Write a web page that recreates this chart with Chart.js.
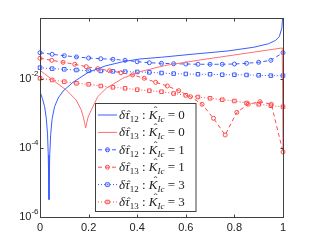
<!DOCTYPE html>
<html>
<head>
<meta charset="utf-8">
<script src="https://cdn.jsdelivr.net/npm/chart.js@4/dist/chart.umd.min.js"></script>
<style>
  html, body { margin: 0; padding: 0; background: #fff; }
</style>
</head>
<body>
<canvas id="chart" width="312" height="244"></canvas>
<script>
// 數值
const blueSolidX = [0, 0.01, 0.019, 0.026, 0.031, 0.034, 0.037, 0.040, 0.044, 0.050, 0.060, 0.075, 0.095, 0.135, 0.2, 0.27, 0.34, 0.41, 0.5, 0.63, 0.77, 0.88, 0.94, 0.97, 0.985, 0.995, 1];
const blueSolid = [4.27e-3, 2.69e-3, 1.58e-3, 7.1e-4, 2.5e-4, 6.3e-5, 3.2e-6, 6.3e-5, 2.5e-4, 7.1e-4, 1.58e-3, 2.82e-3, 4.47e-3, 7.94e-3, 0.0158, 0.024, 0.0316, 0.038, 0.0427, 0.0525, 0.0646, 0.0832, 0.105, 0.132, 0.17, 0.295, 0.79];

const redSolidX = [0, 0.053, 0.108, 0.149, 0.170, 0.178, 0.183, 0.188, 0.193, 0.198, 0.211, 0.238, 0.273, 0.341, 0.41, 0.513, 0.658, 0.823, 0.997, 1];
const redSolid = [0.0178, 9.3e-3, 4.8e-3, 2.45e-3, 1.26e-3, 7.9e-4, 5.6e-4, 3.8e-4, 5.6e-4, 7.9e-4, 1.26e-3, 3.1e-3, 5.4e-3, 0.0105, 0.0162, 0.0245, 0.0355, 0.0525, 0.0794, 7.9e-5];

const markX = [0, 0.05, 0.1, 0.15, 0.2, 0.25, 0.3, 0.35, 0.4, 0.45, 0.5, 0.55, 0.6, 0.65, 0.7, 0.75, 0.8, 0.85, 0.9, 0.95, 1];
const blueCirc = [0.0578, 0.052, 0.0473, 0.0435, 0.0406, 0.0387, 0.0372, 0.0348, 0.0317, 0.0296, 0.0285, 0.0277, 0.0272, 0.0267, 0.0267, 0.0267, 0.0272, 0.0285, 0.0305, 0.0348, 0.0578];
const blueSq = [0.0213, 0.0199, 0.0191, 0.0182, 0.0174, 0.0171, 0.0167, 0.0163, 0.016, 0.0156, 0.0149, 0.0143, 0.014, 0.0137, 0.0137, 0.0133, 0.0133, 0.0131, 0.0128, 0.0125, 0.0125];
const redSq = [0.0105, 0.00935, 0.00836, 0.0075, 0.00701, 0.00627, 0.00574, 0.00537, 0.0049, 0.00458, 0.00429, 0.0038, 0.00337, 0.00301, 0.00276, 0.00251, 0.0023, 0.00201, 0.00185, 0.00168, 0.00157];

const redCircX = [0, 0.048, 0.095, 0.143, 0.190, 0.238, 0.286, 0.333, 0.381, 0.429, 0.476, 0.524, 0.571, 0.619, 0.667, 0.714, 0.762, 0.810, 0.857, 0.905, 0.952, 1];
const redCirc = [0.0398, 0.0348, 0.0305, 0.0267, 0.0228, 0.0199, 0.0174, 0.0152, 0.0131, 0.0105, 0.00802, 0.00627, 0.00458, 0.00307, 0.00185, 0.000726, 0.000238, 0.00108, 0.00185, 0.0022, 0.00185, 0.0000766];

// 圖例文字
const tauSub = ['12', '13', '12', '13', '12', '13'];
const kicVal = ['0', '0', '1', '1', '3', '3'];

const xTicks = [0, 0.2, 0.4, 0.6, 0.8, 1];
const yTicks = [1e-6, 1e-4, 1e-2];
const yMax = 0.586;

const BLUE = '#3a5cff';
const RED = '#ff4a4a';

function pts(xs, ys) {
    return xs.map((x, i) => ({ x: x, y: ys[i] }));
}

function drawMarker(ctx, style, x, y, color) {
    ctx.save();
    ctx.setLineDash([]);
    ctx.strokeStyle = color;
    ctx.lineWidth = 1;
    ctx.beginPath();
    if (style === 'circle') {
        ctx.arc(x, y, 2, 0, Math.PI * 2);
    } else {
        ctx.rect(x - 1.75, y - 1.75, 3.5, 3.5);
    }
    ctx.stroke();
    ctx.restore();
}

// 圖例文字（含上下標與 hat 符號）
function drawLabel(ctx, x, y, sub, k) {
    const base = y + 4;
    const parts = [
        ['δ', 'italic 13px "Liberation Serif"', 0, false],
        ['τ', 'italic 13px "Liberation Serif"', 0, true],
        [sub, '9px "Liberation Serif"', 3, false],
        [' : ', '13px "Liberation Serif"', 0, false],
        ['K', 'italic 13px "Liberation Serif"', 0, true],
        ['Ic', 'italic 9px "Liberation Serif"', 3, false],
        [' = ' + k, '13px "Liberation Serif"', 0, false]
    ];
    ctx.fillStyle = '#222';
    ctx.textBaseline = 'alphabetic';
    ctx.textAlign = 'left';
    parts.forEach(([t, f, dy, hat]) => {
        ctx.font = f;
        const w = ctx.measureText(t).width;
        ctx.fillText(t, x, base + dy);
        if (hat) {
            ctx.font = '11px "Liberation Serif"';
            ctx.textAlign = 'center';
            const shift = t === 'K' ? 2.5 : 1.5;
            ctx.fillText('\u02C6', x + w / 2 + shift, base - (t === 'K' ? 5 : 1));
            ctx.textAlign = 'left';
        }
        x += w;
    });
}

// 外框、刻度與 y 軸標籤
const boxPlugin = {
    id: 'box',
    afterDatasetsDraw(chart) {
        const { ctx, chartArea: a, scales } = chart;
        const L = Math.round(a.left) + 0.5, R = Math.round(a.right) + 0.5;
        const T = Math.round(a.top) + 0.5, B = Math.round(a.bottom) + 0.5;
        ctx.save();
        ctx.strokeStyle = '#404040';
        ctx.lineWidth = 1;
        ctx.strokeRect(L, T, R - L, B - T);
        ctx.beginPath();
        xTicks.forEach(v => {
            const px = Math.round(scales.x.getPixelForValue(v)) + 0.5;
            ctx.moveTo(px, B); ctx.lineTo(px, B - 3);
            ctx.moveTo(px, T); ctx.lineTo(px, T + 3);
        });
        yTicks.forEach(v => {
            const py = Math.round(scales.y.getPixelForValue(v)) + 0.5;
            ctx.moveTo(L, py); ctx.lineTo(L + 3, py);
            ctx.moveTo(R, py); ctx.lineTo(R - 3, py);
        });
        ctx.stroke();

        ctx.fillStyle = '#222';
        ctx.textBaseline = 'middle';
        yTicks.forEach(v => {
            const py = scales.y.getPixelForValue(v);
            const exp = '-' + Math.abs(Math.round(Math.log10(v)));
            ctx.font = '8px "Liberation Sans"';
            const ew = ctx.measureText(exp).width;
            ctx.textAlign = 'right';
            ctx.fillText(exp, 38.5, py - 5);
            ctx.font = '11px "Liberation Sans"';
            ctx.fillText('10', 38.5 - ew, py);
        });
        ctx.restore();
    }
};

const legendPlugin = {
    id: 'mlegend',
    afterDraw(chart) {
        const ctx = chart.ctx;
        ctx.save();
        ctx.fillStyle = '#fff';
        ctx.fillRect(95.5, 103.5, 100.5, 108);
        ctx.strokeStyle = '#404040';
        ctx.lineWidth = 1;
        ctx.strokeRect(95.5, 103.5, 100.5, 108);
        chart.data.datasets.forEach((ds, i) => {
            const yy = 115 + i * 17.4;
            ctx.beginPath();
            ctx.setLineDash(ds.borderDash || []);
            ctx.strokeStyle = ds.borderColor;
            ctx.lineWidth = ds.borderWidth;
            ctx.moveTo(98, yy);
            ctx.lineTo(117, yy);
            ctx.stroke();
            if (ds.pointRadius > 0) drawMarker(ctx, ds.pointStyle, 107.5, yy, ds.borderColor);
            drawLabel(ctx, 119, yy, tauSub[i], kicVal[i]);
        });
        ctx.restore();
    }
};

const lineDefaults = { borderWidth: 1, tension: 0, fill: false };
const hollow = 'rgba(0,0,0,0)';

new Chart(document.getElementById('chart'), {
    type: 'line',
    data: {
        datasets: [
            { ...lineDefaults, data: pts(blueSolidX, blueSolid), borderColor: BLUE, pointRadius: 0 },
            { ...lineDefaults, data: pts(redSolidX, redSolid), borderColor: '#ff7070', pointRadius: 0 },
            { ...lineDefaults, data: pts(markX, blueCirc), borderColor: BLUE, borderDash: [4, 3], pointStyle: 'circle', pointRadius: 2, pointBorderWidth: 1, pointBackgroundColor: hollow, pointBorderColor: BLUE, clip: false },
            { ...lineDefaults, data: pts(redCircX, redCirc), borderColor: RED, borderDash: [4, 3], pointStyle: 'circle', pointRadius: 2, pointBorderWidth: 1, pointBackgroundColor: hollow, pointBorderColor: RED, clip: false },
            { ...lineDefaults, data: pts(markX, blueSq), borderColor: BLUE, borderDash: [1, 2], pointStyle: 'rect', pointRadius: 2.5, pointBorderWidth: 1, pointBackgroundColor: hollow, pointBorderColor: BLUE, clip: false },
            { ...lineDefaults, data: pts(markX, redSq), borderColor: RED, borderDash: [1, 2], pointStyle: 'rect', pointRadius: 2.5, pointBorderWidth: 1, pointBackgroundColor: hollow, pointBorderColor: RED, clip: false }
        ]
    },
    options: {
        responsive: false,
        animation: false,
        layout: { padding: { left: 0, top: 18, right: 29, bottom: 0 } },
        plugins: { legend: { display: false }, tooltip: { enabled: false } },
        scales: {
            x: {
                type: 'linear', min: 0, max: 1,
                grid: { display: false, drawTicks: false },
                border: { display: false },
                afterBuildTicks: s => { s.ticks = xTicks.map(v => ({ value: v })); },
                afterFit: s => { s.height = 27; },
                ticks: {
                    padding: 4,
                    color: '#222',
                    font: { family: 'Liberation Sans', size: 11 },
                    maxRotation: 0,
                    callback: v => String(v)
                }
            },
            y: {
                type: 'logarithmic', min: 1e-6, max: yMax,
                grid: { display: false, drawTicks: false },
                border: { display: false },
                afterBuildTicks: s => { s.ticks = yTicks.map(v => ({ value: v })); },
                afterFit: s => { s.width = 40; },
                ticks: { display: false }
            }
        }
    },
    plugins: [boxPlugin, legendPlugin]
});
</script>
</body>
</html>
